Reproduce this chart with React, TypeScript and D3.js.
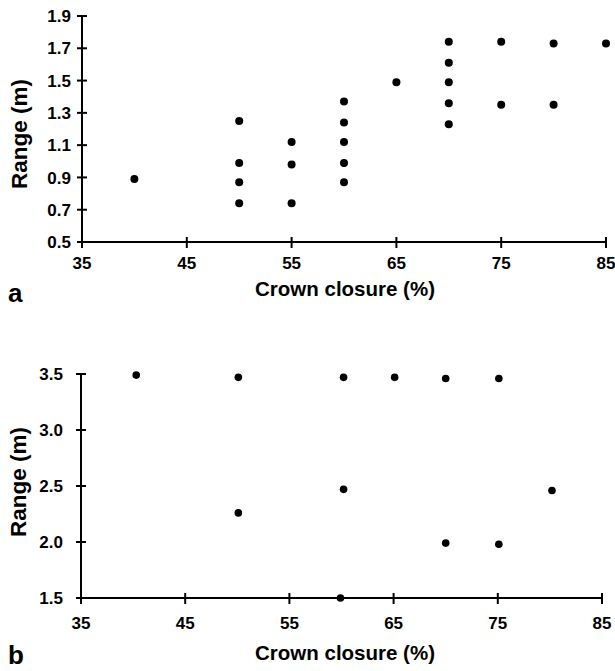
import React from "react";
import * as d3 from "d3";

const xTicks = [35, 45, 55, 65, 75, 85];
const aYTicks = [0.5, 0.7, 0.9, 1.1, 1.3, 1.5, 1.7, 1.9];
const bYTicks = [1.5, 2.0, 2.5, 3.0, 3.5];

const aX = [40, 50, 50, 50, 50, 55, 55, 55, 60, 60, 60, 60, 60, 65, 70, 70, 70, 70, 70, 75, 75, 80, 80, 85];
const aY = [0.89, 1.25, 0.99, 0.87, 0.74, 1.12, 0.98, 0.74, 1.37, 1.24, 1.12, 0.99, 0.87, 1.49, 1.74, 1.61, 1.49, 1.36, 1.23, 1.74, 1.35, 1.73, 1.35, 1.73];

const bX = [40.3, 50.1, 50.1, 60.2, 60.2, 59.9, 65.1, 70, 70, 75.1, 75.1, 80.2];
const bY = [3.49, 3.47, 2.26, 3.47, 2.47, 1.5, 3.47, 3.46, 1.99, 3.46, 1.98, 2.46];

const FONT = "'Liberation Sans', Arial, sans-serif";

type PanelProps = {
  xs: number[];
  ys: number[];
  yTicks: number[];
  yDomain: [number, number];
  left: number;
  right: number;
  top: number;
  bottom: number;
  yFmt: (v: number) => string;
  letter: string;
  letterY: number;
  tickLabelDy: number;
  titleDy: number;
  yLabelGap: number;
  yTitleX: number;
  yTitleDy: number;
  r: number;
};

function Panel(p: PanelProps) {
  const x = d3.scaleLinear().domain([35, 85]).range([p.left, p.right]);
  const y = d3.scaleLinear().domain(p.yDomain).range([p.bottom, p.top]);
  const midY = (p.top + p.bottom) / 2 + p.yTitleDy;
  return (
    <g>
      <line x1={p.left} x2={p.left} y1={p.top} y2={p.bottom} stroke="#000" strokeWidth={2} />
      <line x1={p.left} x2={p.right} y1={p.bottom} y2={p.bottom} stroke="#000" strokeWidth={2} />
      {p.yTicks.map((t) => (
        <g key={"y" + t}>
          <line x1={p.left - 5} x2={p.left + 5} y1={y(t)} y2={y(t)} stroke="#000" strokeWidth={2} />
          <text
            x={p.left - p.yLabelGap}
            y={y(t)}
            dy="0.36em"
            textAnchor="end"
            fontFamily={FONT}
            fontWeight="bold"
            fontSize={17}
          >
            {p.yFmt(t)}
          </text>
        </g>
      ))}
      {xTicks.map((t) => (
        <g key={"x" + t}>
          <line x1={x(t)} x2={x(t)} y1={p.bottom - 5} y2={p.bottom + 6} stroke="#000" strokeWidth={2} />
          <text
            x={x(t)}
            y={p.bottom + p.tickLabelDy}
            textAnchor="middle"
            fontFamily={FONT}
            fontWeight="bold"
            fontSize={17}
          >
            {t}
          </text>
        </g>
      ))}
      {p.xs.map((v, i) => (
        <circle key={i} cx={x(v)} cy={y(p.ys[i])} r={p.r} fill="#000" />
      ))}
      <text
        x={345}
        y={p.bottom + p.titleDy}
        textAnchor="middle"
        fontFamily={FONT}
        fontWeight="bold"
        fontSize={20.5}
      >
        Crown closure (%)
      </text>
      <text
        transform={`translate(${p.yTitleX},${midY}) rotate(-90)`}
        textAnchor="middle"
        fontFamily={FONT}
        fontWeight="bold"
        fontSize={22.5}
      >
        Range (m)
      </text>
      <text x={8} y={p.letterY} fontFamily={FONT} fontWeight="bold" fontSize={26}>
        {p.letter}
      </text>
    </g>
  );
}

export default function App() {
  return (
    <div style={{ position: "absolute", left: 0, top: 0 }}>
      <svg width={615} height={671} style={{ display: "block", background: "#fff" }}>
        <Panel
          xs={aX}
          ys={aY}
          yTicks={aYTicks}
          yDomain={[0.5, 1.9]}
          left={82}
          right={606}
          top={16}
          bottom={242}
          yFmt={(v) => d3.format(".1f")(v)}
          letter="a"
          letterY={302}
          tickLabelDy={27}
          titleDy={54}
          yLabelGap={11}
          yTitleX={27}
          yTitleDy={5}
          r={4}
        />
        <Panel
          xs={bX}
          ys={bY}
          yTicks={bYTicks}
          yDomain={[1.5, 3.5]}
          left={81}
          right={602}
          top={374}
          bottom={598}
          yFmt={(v) => d3.format(".1f")(v)}
          letter="b"
          letterY={664}
          tickLabelDy={31}
          titleDy={62}
          yLabelGap={18}
          yTitleX={26}
          yTitleDy={-4}
          r={3.8}
        />
      </svg>
    </div>
  );
}
